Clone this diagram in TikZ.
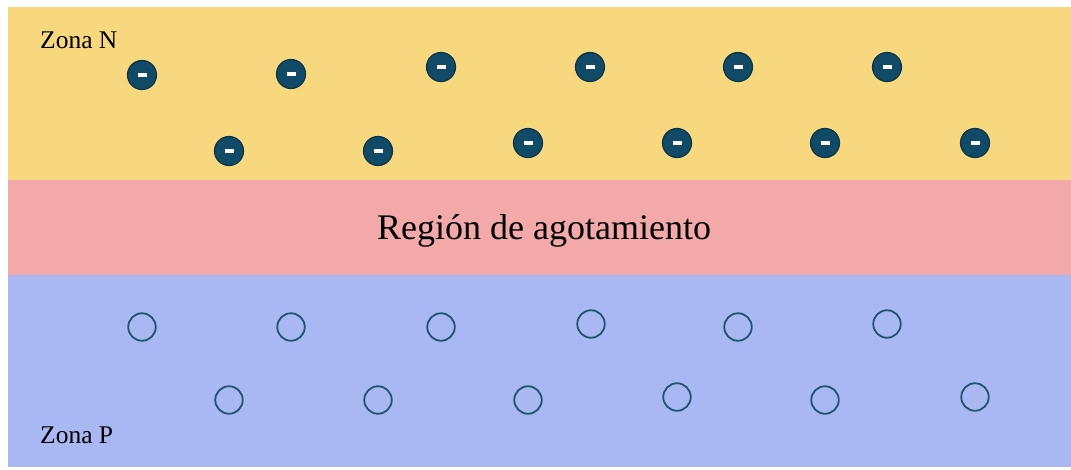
\documentclass[tikz,border=0pt]{standalone}
\usepackage{fontspec}
\setmainfont{Liberation Serif}
\definecolor{zonaN}{HTML}{F7D87E}
\definecolor{zonaR}{HTML}{F3A8AA}
\definecolor{zonaP}{HTML}{A9B8F2}
\definecolor{elec}{HTML}{104A66}
\definecolor{elecb}{HTML}{0B3448}
\definecolor{holec}{HTML}{1E5570}
\tikzset{
  electron/.style={circle, fill=elec, draw=elecb, line width=1.2pt, minimum size=29pt, inner sep=0pt,
    path picture={\fill[white] ([xshift=-4.5pt,yshift=-1.7pt]path picture bounding box.center) rectangle ([xshift=4.5pt,yshift=1.7pt]path picture bounding box.center);}},
  hole/.style={circle, draw=holec, line width=1.8pt, minimum size=27.5pt, inner sep=0pt},
  label/.style={anchor=base west, font=\fontsize{25.5}{28}\selectfont, inner sep=0pt}
}
\begin{document}
\begin{tikzpicture}[x=1pt,y=-1pt]
\useasboundingbox (0,0) rectangle (1071,469);
\fill[white] (0,0) rectangle (1071,469);
\fill[zonaN] (8,7) rectangle (1071,180);
\fill[zonaR] (8,180) rectangle (1071,275);
\fill[zonaP] (8,275) rectangle (1071,467);
\node[label] (zn) at (40,48) {Zona N};
\node[label] (zp) at (40,443) {Zona P};
\node[anchor=base, font=\fontsize{36}{40}\selectfont, inner sep=0pt] (reg) at (544,239) {Región de agotamiento};
% electrons
\node[electron] (e1) at (142,75) {};
\node[electron] (e2) at (291,74) {};
\node[electron] (e3) at (441,67) {};
\node[electron] (e4) at (590,67) {};
\node[electron] (e5) at (738,67) {};
\node[electron] (e6) at (887,67) {};
\node[electron] (e7) at (229,151) {};
\node[electron] (e8) at (378,151) {};
\node[electron] (e9) at (528,143) {};
\node[electron] (e10) at (677,143) {};
\node[electron] (e11) at (825,143) {};
\node[electron] (e12) at (975,143) {};
% holes
\node[hole] (h1) at (142,327) {};
\node[hole] (h2) at (291,327) {};
\node[hole] (h3) at (441,327) {};
\node[hole] (h4) at (591,324) {};
\node[hole] (h5) at (738,327) {};
\node[hole] (h6) at (887,324) {};
\node[hole] (h7) at (229,400) {};
\node[hole] (h8) at (378,400) {};
\node[hole] (h9) at (528,400) {};
\node[hole] (h10) at (677,397) {};
\node[hole] (h11) at (825,400) {};
\node[hole] (h12) at (975,397) {};
\end{tikzpicture}
\end{document}
